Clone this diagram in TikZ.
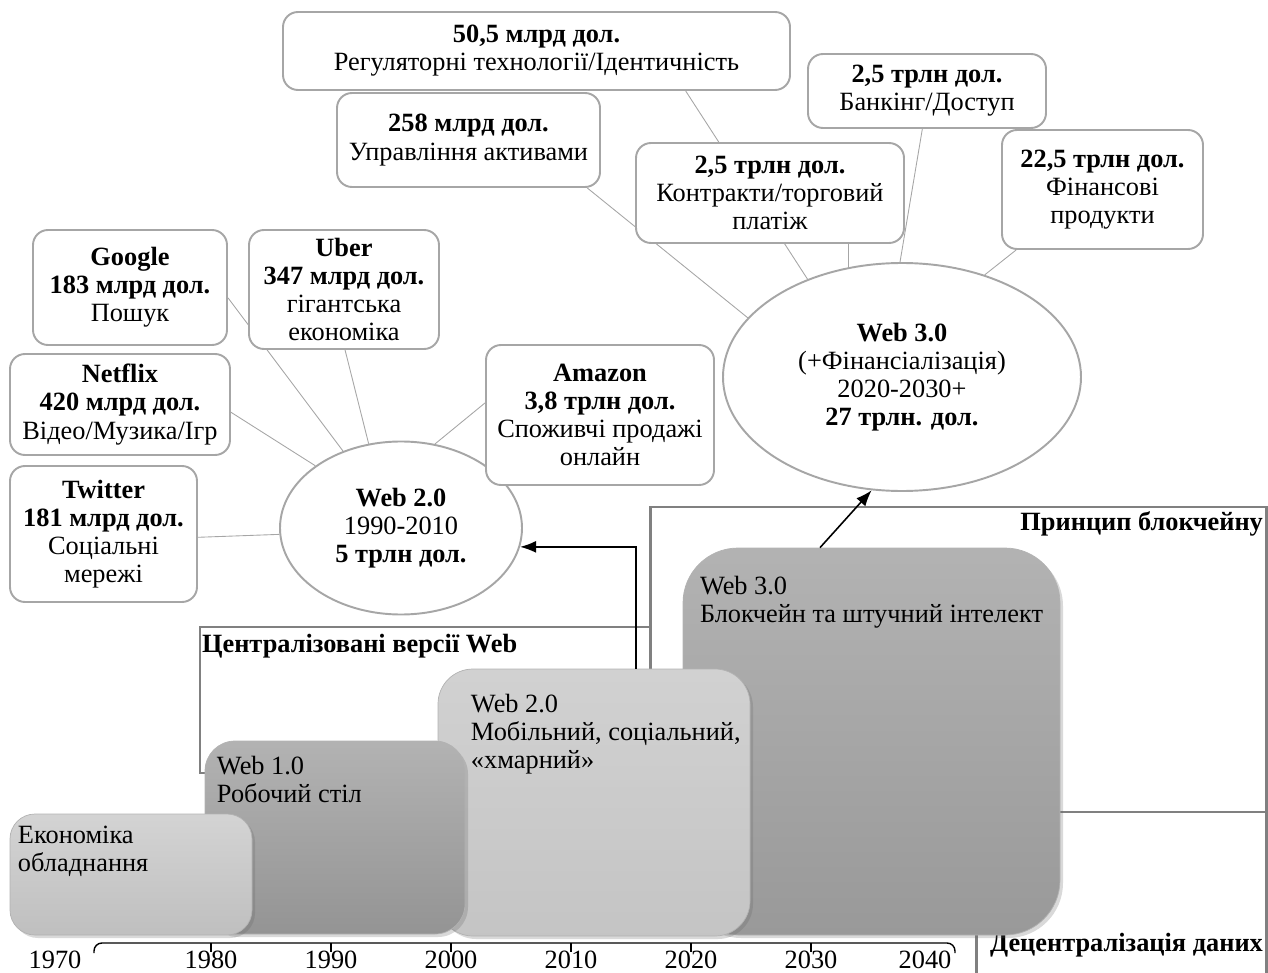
\documentclass[tikz,border=0pt]{standalone}
\usepackage{fontspec}
\setmainfont{Liberation Serif}
\usetikzlibrary{shapes.geometric,arrows.meta,shadows,backgrounds}

\begin{document}
\begin{tikzpicture}[x=0.02cm,y=-0.02cm,
    every node/.style={font=\fontsize{15}{16}\selectfont},
    card/.style 2 args={draw=black!35,line width=1.1pt,fill=white,rounded corners=0.3cm,
      minimum width={#1*0.02cm},minimum height={#2*0.02cm},align=center,inner sep=2pt},
    oval/.style 2 args={ellipse,draw=black!35,line width=1.1pt,fill=white,
      minimum width={#1*0.02cm},minimum height={#2*0.02cm},align=center,inner sep=0pt},
    era/.style 2 args={draw=black!30,line width=0.4pt,
      minimum width={#1*0.02cm},minimum height={#2*0.02cm},
      drop shadow={shadow xshift=0.06cm,shadow yshift=-0.06cm,opacity=0.25,fill=black!60}},
    eratext/.style={anchor=north west,align=left,inner sep=0pt},
    head/.style={font=\fontsize{15}{16}\selectfont\bfseries,inner sep=1pt},
    link/.style={draw=black!35,line width=0.5pt},
    frame/.style={draw=black!50,line width=1.7pt},
    arr/.style={-{Latex[length=0.32cm,width=0.24cm]},line width=0.9pt}]
    \useasboundingbox (0,0) rectangle (1268,973);

    % frames
    \draw[frame] (207,773) -- (200,773) -- (200,627) -- (650,627);
    \draw[frame] (650,900) -- (650,507) -- (1266,507) -- (1266,973);
    \draw[frame] (976,973) -- (976,812) -- (1266,812);
    \node[head,anchor=west] (centrlbl) at (200,646) {Централізовані версії Web};
    \node[head,anchor=east] (blocklbl) at (1265,524) {Принцип блокчейну};
    \node[head,anchor=east] (decentrlbl) at (1265,945) {Децентралізація даних};

    % eras on the time line
    \node[era={377}{387},rounded corners=1.1cm,top color=black!30,bottom color=black!40] (w3box) at (871.5,741.5) {};
    \node[era={312}{267},rounded corners=0.7cm,top color=black!18,bottom color=black!23] (w2box) at (594,802.5) {};
    \node[era={260}{193},rounded corners=0.6cm,top color=black!30,bottom color=black!42] (w1box) at (335,837.5) {};
    \node[era={242}{121},rounded corners=0.5cm,top color=black!17,bottom color=black!25] (hwbox) at (131,874.5) {};
    \node[eratext] (w3txt) at ([xshift=0.34cm,yshift=-0.56cm]w3box.north west) {Web 3.0\\Блокчейн та штучний інтелект};
    \node[eratext] (w2txt) at ([xshift=0.66cm,yshift=-0.5cm]w2box.north west) {Web 2.0\\Мобільний, соціальний,\\«хмарний»};
    \node[eratext] (w1txt) at ([xshift=0.24cm,yshift=-0.3cm]w1box.north west) {Web 1.0\\Робочий стіл};
    \node[eratext] (hwtxt) at ([xshift=0.16cm,yshift=-0.24cm]hwbox.north west) {Економіка\\обладнання};

    % time axis
    \draw[line width=0.8pt,rounded corners=0.16cm] (94,953) -- (94,943) -- (955,943) -- (955,953);
    \foreach \i in {0,...,5}
        \draw[line width=0.8pt] (211+120*\i,943) -- (211+120*\i,952);
    \foreach \x/\yr in {55/1970,211/1980,331/1990,451/2000,571/2010,691/2020,811/2030,925/2040}
        \node[inner sep=0pt] (y\yr) at (\x,960) {\yr};

    % Web 2.0 cluster
    \node[oval={242}{173}] (web2) at (401,528) {\textbf{Web 2.0}\\1990-2010\\\textbf{5 трлн дол.}};
    \node[card={194}{115}] (googbox) at (130,287.5) {\textbf{Google}\\\textbf{183 млрд дол.}\\Пошук};
    \node[card={190}{119}] (uberbox) at (344,289.5) {\textbf{Uber}\\\textbf{347 млрд дол.}\\гігантська\\економіка};
    \node[card={220}{101}] (netbox) at (120,404.5) {\textbf{Netflix}\\\textbf{420 млрд дол.}\\Відео/Музика/Ігр};
    \node[card={187}{136}] (twitbox) at (103.5,534) {\textbf{Twitter}\\\textbf{181 млрд дол.}\\Соціальні\\мережі};
    \node[card={228}{140}] (amazbox) at (600,415) {\textbf{Amazon}\\\textbf{3,8 трлн дол.}\\Споживчі продажі\\онлайн};

    % Web 3.0 cluster
    \node[oval={358}{228}] (web3) at (902,377) {\textbf{Web 3.0}\\(+Фінансіалізація)\\2020-2030+\\\textbf{27 трлн. дол.}};
    \node[card={507}{78}] (regbox) at (536.5,51) {\textbf{50,5 млрд дол.}\\Регуляторні технології/Ідентичність};
    \node[card={263}{94}] (assetbox) at (468.5,140) {\textbf{258 млрд дол.}\\Управління активами};
    \node[card={238}{74}] (bankbox) at (927,91) {\textbf{2,5 трлн дол.}\\Банкінг/Доступ};
    \node[card={268}{100}] (contrbox) at (770,193) {\textbf{2,5 трлн дол.}\\Контракти/торговий\\платіж};
    \node[card={201}{119}] (finbox) at (1102.5,189.5) {\textbf{22,5 трлн дол.}\\Фінансові\\продукти};

    \begin{scope}[on background layer]
        \draw[link] (web3.159) -- (assetbox.-22);
        \draw[link] (web3.134) -- (regbox.-15.4);
        \draw[link] (web3.116) -- (contrbox.-33);
        \draw[link] (web3.91) -- (bankbox.-97);
        \draw[link] (web3.51) -- (finbox.215);
        \draw[link] (web2.183) -- (twitbox.-2);
        \draw[link] (web2.144) -- (netbox.-4);
        \draw[link] (web2.127) -- (googbox.-6);
        \draw[link] (web2.111) -- (uberbox.-89);
        \draw[link] (web2.68) -- (amazbox.174);
    \end{scope}

    % arrows up from the eras
    \draw[arr] ([xshift=0.84cm]w2box.north) |- (web2.-9);
    \draw[arr] ([xshift=-1.03cm]w3box.north) -- (web3.255);
\end{tikzpicture}
\end{document}
